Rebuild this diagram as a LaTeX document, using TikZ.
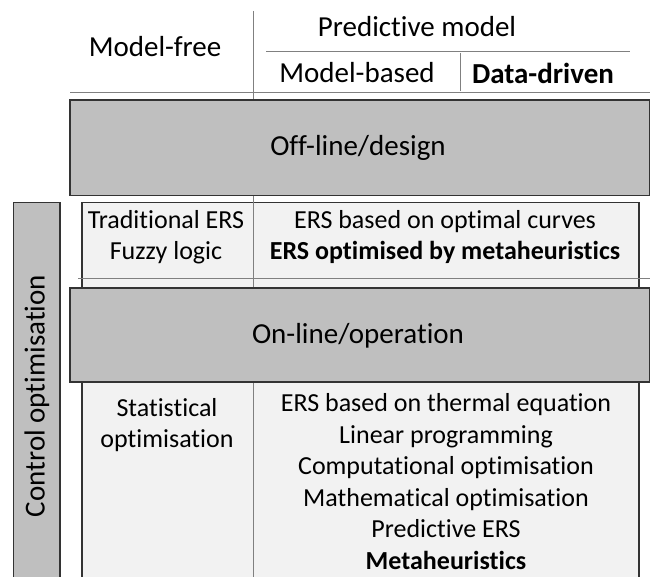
\documentclass[tikz,border=0pt]{standalone}
\usepackage{fontspec}
\setmainfont[Ligatures=NoCommon]{Carlito}
\begin{document}
\begin{tikzpicture}[x=1pt,y=-1pt,
  darkbox/.style={draw=black!80, line width=1.3pt, fill=black!25},
  lightbox/.style={draw=black!80, line width=1.1pt, fill=black!5},
  rule/.style={draw=black!50, line width=0.9pt},
  bodytext/.style={font=\fontsize{26}{31.5}\selectfont, align=center, inner sep=0pt},
  headtext/.style={font=\fontsize{29}{35}\selectfont, align=center, inner sep=0pt}]
\useasboundingbox (0,0) rectangle (650,577);
\clip (0,0) rectangle (650,577);

% side band and the light table body
\draw[darkbox] (13.5,202.5) rectangle (60,590);
\node[headtext, rotate=90] (ctrl) at (37,396) {Control optimisation};
\draw[lightbox] (82,202.5) rectangle (639,590);

% table rules
\draw[rule] (253,11) -- (253,590);
\draw[rule] (70,92.7) -- (650,92.7);
\draw[rule] (78,278.3) -- (650,278.3);
\draw[rule] (266,51) -- (630,51);
\draw[rule] (460.5,53) -- (460.5,91);

% phase bands
\draw[darkbox] (70,100) rectangle (649.5,195.5);
\draw[darkbox] (70,288) rectangle (649.5,382);
\node[headtext] (offline) at (358,148) {Off-line/design};
\node[headtext] (online) at (358,336) {On-line/operation};

% column headers
\node[headtext] (pred) at (417,27) {Predictive model};
\node[headtext] (free) at (155,47) {Model-free};
\node[headtext] (based) at (357,73) {Model-based};
\node[headtext] (data) at (543,73) {\textbf{Data-driven}};

% off-line methods
\node[bodytext] (offfree) at (166,237) {Traditional ERS\\Fuzzy logic};
\node[bodytext] (offpred) at (445,237) {ERS based on optimal curves\\\textbf{ERS optimised by metaheuristics}};

% on-line methods
\node[bodytext] (onfree) at (167,425) {Statistical\\optimisation};
\node[bodytext] (onpred) at (446,481.5) {ERS based on thermal equation\\Linear programming\\Computational optimisation\\Mathematical optimisation\\Predictive ERS\\\textbf{Metaheuristics}};
\end{tikzpicture}
\end{document}
